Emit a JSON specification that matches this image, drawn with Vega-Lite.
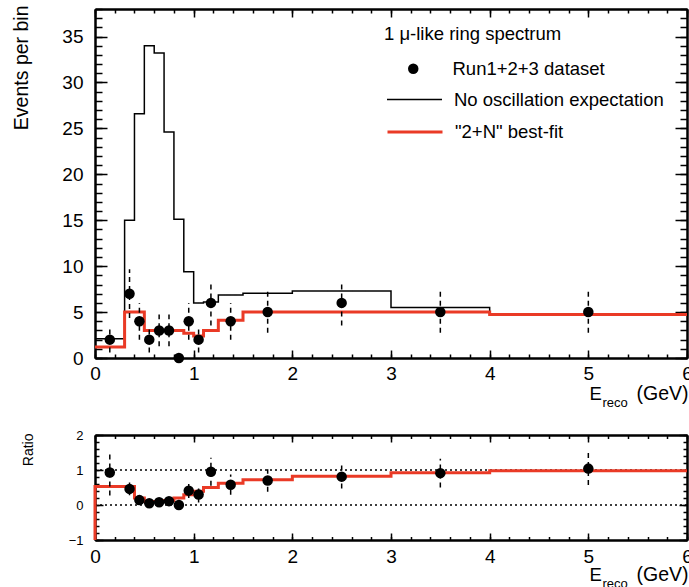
{
  "$schema": "https://vega.github.io/schema/vega-lite/v6.json",
  "padding": {"left": 10, "top": 5, "right": 0, "bottom": 0},
  "spacing": 20,
  "config": {
    "font": "Liberation Sans",
    "view": {"stroke": null},
    "axis": {"grid": false, "domainColor": "black", "domainWidth": 2, "tickColor": "black", "tickWidth": 1.5, "labelColor": "black", "titleColor": "black", "labelFont": "Liberation Sans", "titleFont": "Liberation Sans", "titleFontWeight": "normal", "labelFlush": false, "labelOverlap": false},
    "legend": {"labelFont": "Liberation Sans", "titleFont": "Liberation Sans", "labelColor": "black", "titleColor": "black", "labelFontSize": 18.5, "labelLimit": 400, "padding": 0}
  },
  "datasets": {
    "pts": [
      {"E": 0.15, "n": 2, "lo": 0.59, "hi": 3.41, "r": 0.93, "rlo": 0.27, "rhi": 1.5},
      {"E": 0.35, "n": 7, "lo": 4.35, "hi": 9.65, "r": 0.46, "rlo": 0.28, "rhi": 0.64},
      {"E": 0.45, "n": 4, "lo": 2, "hi": 6, "r": 0.14, "rlo": 0.07, "rhi": 0.22},
      {"E": 0.55, "n": 2, "lo": 0.59, "hi": 3.41, "r": 0.05, "rlo": 0.01, "rhi": 0.09},
      {"E": 0.65, "n": 3, "lo": 1.27, "hi": 4.73, "r": 0.08, "rlo": 0.03, "rhi": 0.13},
      {"E": 0.75, "n": 3, "lo": 1.27, "hi": 4.73, "r": 0.11, "rlo": 0.04, "rhi": 0.18},
      {"E": 0.85, "n": 0, "lo": 0, "hi": 0, "r": 0, "rlo": 0, "rhi": 0},
      {"E": 0.95, "n": 4, "lo": 2, "hi": 6, "r": 0.41, "rlo": 0.2, "rhi": 0.62},
      {"E": 1.05, "n": 2, "lo": 0.59, "hi": 3.41, "r": 0.3, "rlo": 0.07, "rhi": 0.53},
      {"E": 1.175, "n": 6, "lo": 3.55, "hi": 8.45, "r": 0.95, "rlo": 0.55, "rhi": 1.35},
      {"E": 1.375, "n": 4, "lo": 2, "hi": 6, "r": 0.58, "rlo": 0.29, "rhi": 0.87},
      {"E": 1.75, "n": 5, "lo": 2.76, "hi": 7.24, "r": 0.7, "rlo": 0.38, "rhi": 1.02},
      {"E": 2.5, "n": 6, "lo": 3.55, "hi": 8.45, "r": 0.81, "rlo": 0.47, "rhi": 1.15},
      {"E": 3.5, "n": 5, "lo": 2.76, "hi": 7.24, "r": 0.91, "rlo": 0.5, "rhi": 1.32},
      {"E": 5.0, "n": 5, "lo": 2.76, "hi": 7.24, "r": 1.04, "rlo": 0.57, "rhi": 1.51}
    ],
    "noosc": [
      {"i": 0, "E": 0, "v": 2.1}, {"i": 1, "E": 0.3, "v": 15.0}, {"i": 2, "E": 0.4, "v": 26.6}, {"i": 3, "E": 0.5, "v": 34.0},
      {"i": 4, "E": 0.6, "v": 33.2}, {"i": 5, "E": 0.7, "v": 24.6}, {"i": 6, "E": 0.8, "v": 15.1}, {"i": 7, "E": 0.9, "v": 9.4},
      {"i": 8, "E": 1.0, "v": 6.0}, {"i": 9, "E": 1.1, "v": 6.1}, {"i": 10, "E": 1.25, "v": 6.85}, {"i": 11, "E": 1.5, "v": 7.05},
      {"i": 12, "E": 2.0, "v": 7.3}, {"i": 13, "E": 3.0, "v": 5.5}, {"i": 14, "E": 4.0, "v": 4.7}, {"i": 15, "E": 6.0, "v": 4.7}
    ],
    "fit": [
      {"i": 0, "E": 0, "v": 1.2}, {"i": 1, "E": 0.3, "v": 5.0}, {"i": 2, "E": 0.4, "v": 5.0}, {"i": 3, "E": 0.5, "v": 3.0},
      {"i": 4, "E": 0.6, "v": 3.0}, {"i": 5, "E": 0.7, "v": 3.0}, {"i": 6, "E": 0.8, "v": 3.0}, {"i": 7, "E": 0.9, "v": 2.7},
      {"i": 8, "E": 1.0, "v": 2.4}, {"i": 9, "E": 1.1, "v": 3.0}, {"i": 10, "E": 1.25, "v": 4.1}, {"i": 11, "E": 1.5, "v": 5.0},
      {"i": 12, "E": 2.0, "v": 5.0}, {"i": 13, "E": 3.0, "v": 5.0}, {"i": 14, "E": 4.0, "v": 4.75}, {"i": 15, "E": 6.0, "v": 4.75}
    ],
    "rfit": [
      {"i": 0, "E": 0, "v": -1}, {"i": 1, "E": 0, "v": 0.53}, {"i": 2, "E": 0.4, "v": 0.2}, {"i": 3, "E": 0.5, "v": 0.1},
      {"i": 4, "E": 0.6, "v": 0.1}, {"i": 5, "E": 0.7, "v": 0.13}, {"i": 6, "E": 0.8, "v": 0.2}, {"i": 7, "E": 0.9, "v": 0.29},
      {"i": 8, "E": 1.0, "v": 0.39}, {"i": 9, "E": 1.1, "v": 0.5}, {"i": 10, "E": 1.25, "v": 0.62}, {"i": 11, "E": 1.5, "v": 0.72},
      {"i": 12, "E": 2.0, "v": 0.82}, {"i": 13, "E": 3.0, "v": 0.92}, {"i": 14, "E": 4.0, "v": 0.98}, {"i": 15, "E": 6.0, "v": 0.98}
    ],
    "refs": [{"y": 0, "xa": 0, "xb": 6}, {"y": 1, "xa": 0, "xb": 6}]
  },
  "vconcat": [
    {
      "width": 592,
      "height": 349,
      "resolve": {"axis": {"x": "independent", "y": "independent"}},
      "layer": [
        {
          "data": {"name": "noosc"},
          "mark": {"type": "line", "interpolate": "step-after", "color": "black", "strokeWidth": 1.5},
          "encoding": {
            "order": {"field": "i", "type": "quantitative"},
            "x": {"field": "E", "type": "quantitative", "scale": {"domain": [0, 6], "nice": false, "zero": false},
              "axis": {"orient": "bottom", "values": [0, 1, 2, 3, 4, 5, 6], "tickSize": -8, "labelPadding": 14, "labelFontSize": 19,
                "title": "E", "titleFontSize": 18.5, "titleX": 494, "titleY": 41, "titleAlign": "left", "titleBaseline": "alphabetic"}},
            "y": {"field": "v", "type": "quantitative", "scale": {"domain": [0, 38], "nice": false},
              "axis": {"orient": "left", "values": [0, 5, 10, 15, 20, 25, 30, 35], "tickSize": -12, "labelPadding": 24, "labelFontSize": 19,
                "title": "Events per bin", "titleFontSize": 19.5, "titleX": -68, "titleY": -4, "titleAngle": -90, "titleAlign": "right", "titleBaseline": "alphabetic"}},
            "strokeDash": {"datum": "No oscillation expectation",
              "scale": {"domain": ["No oscillation expectation"], "range": [[1, 0]]},
              "legend": {"orient": "none", "legendX": 289, "legendY": 62, "title": null, "symbolSize": 3025, "symbolStrokeWidth": 1.5, "symbolStrokeColor": "black", "symbolOffset": 2, "labelOffset": 11}}
          }
        },
        {
          "data": {"name": "fit"},
          "mark": {"type": "line", "interpolate": "step-after", "strokeWidth": 3},
          "encoding": {
            "order": {"field": "i", "type": "quantitative"},
            "x": {"field": "E", "type": "quantitative",
              "axis": {"orient": "bottom", "values": [0, 0.2, 0.4, 0.6, 0.8, 1, 1.2, 1.4, 1.6, 1.8, 2, 2.2, 2.4, 2.6, 2.8, 3, 3.2, 3.4, 3.6, 3.8, 4, 4.2, 4.4, 4.6, 4.8, 5, 5.2, 5.4, 5.6, 5.8, 6], "tickSize": -4, "labels": false,
                "title": "reco", "titleFontSize": 13, "titleX": 507, "titleY": 48, "titleAlign": "left", "titleBaseline": "alphabetic"}},
            "y": {"field": "v", "type": "quantitative",
              "axis": {"orient": "left", "values": [0, 1, 2, 3, 4, 5, 6, 7, 8, 9, 10, 11, 12, 13, 14, 15, 16, 17, 18, 19, 20, 21, 22, 23, 24, 25, 26, 27, 28, 29, 30, 31, 32, 33, 34, 35, 36, 37, 38], "tickSize": -7, "labels": false, "title": null}},
            "stroke": {"datum": "\"2+N\" best-fit",
              "scale": {"domain": ["\"2+N\" best-fit"], "range": ["#ea3a26"]},
              "legend": {"orient": "none", "legendX": 289, "legendY": 94, "title": null, "symbolSize": 3025, "symbolStrokeWidth": 3, "symbolOffset": 2, "labelOffset": 11}}
          }
        },
        {
          "data": {"name": "pts"},
          "mark": {"type": "rule", "color": "black", "strokeWidth": 1.5, "strokeDash": [5, 4]},
          "encoding": {
            "x": {"field": "E", "type": "quantitative",
              "axis": {"orient": "top", "values": [0, 1, 2, 3, 4, 5, 6], "tickSize": -8, "labels": false,
                "title": "(GeV)", "titleFontSize": 19.5, "titleX": 593, "titleY": 390, "titleAlign": "right", "titleBaseline": "alphabetic"}},
            "y": {"field": "lo", "type": "quantitative",
              "axis": {"orient": "right", "values": [0, 5, 10, 15, 20, 25, 30, 35], "tickSize": -12, "labels": false, "title": null}},
            "y2": {"field": "hi"}
          }
        },
        {
          "data": {"name": "pts"},
          "mark": {"type": "circle", "size": 110, "opacity": 1},
          "encoding": {
            "x": {"field": "E", "type": "quantitative",
              "axis": {"orient": "top", "values": [0, 0.2, 0.4, 0.6, 0.8, 1, 1.2, 1.4, 1.6, 1.8, 2, 2.2, 2.4, 2.6, 2.8, 3, 3.2, 3.4, 3.6, 3.8, 4, 4.2, 4.4, 4.6, 4.8, 5, 5.2, 5.4, 5.6, 5.8, 6], "tickSize": -4, "labels": false, "title": null}},
            "y": {"field": "n", "type": "quantitative",
              "axis": {"orient": "right", "values": [0, 1, 2, 3, 4, 5, 6, 7, 8, 9, 10, 11, 12, 13, 14, 15, 16, 17, 18, 19, 20, 21, 22, 23, 24, 25, 26, 27, 28, 29, 30, 31, 32, 33, 34, 35, 36, 37, 38], "tickSize": -7, "labels": false, "title": null}},
            "color": {"datum": "Run1+2+3 dataset",
              "scale": {"domain": ["Run1+2+3 dataset"], "range": ["black"]},
              "legend": {"orient": "none", "legendX": 289, "legendY": 16, "title": "1 μ-like ring spectrum", "titleFontSize": 18.5, "titleFontWeight": "normal", "titlePadding": 16,
                "symbolOffset": 20, "labelOffset": 30, "symbolSize": 110}}
          }
        }
      ]
    },
    {
      "width": 592,
      "height": 105,
      "resolve": {"axis": {"x": "independent", "y": "independent"}},
      "layer": [
        {
          "data": {"name": "refs"},
          "mark": {"type": "rule", "color": "black", "strokeWidth": 1.5, "strokeDash": [2, 3]},
          "encoding": {
            "x": {"field": "xa", "type": "quantitative", "scale": {"domain": [0, 6], "nice": false, "zero": false},
              "axis": {"orient": "bottom", "values": [0, 1, 2, 3, 4, 5, 6], "tickSize": -7, "labelPadding": 14, "labelFontSize": 19,
                "title": "E", "titleFontSize": 18.5, "titleX": 494, "titleY": 40, "titleAlign": "left", "titleBaseline": "alphabetic"}},
            "x2": {"field": "xb"},
            "y": {"field": "y", "type": "quantitative", "scale": {"domain": [-1, 2], "nice": false, "zero": false},
              "axis": {"orient": "left", "values": [-1, 0, 1, 2], "tickSize": -8, "labelPadding": 20, "labelFontSize": 13,
                "title": "Ratio", "titleFontSize": 14, "titleX": -63, "titleY": -2, "titleAngle": -90, "titleAlign": "right", "titleBaseline": "alphabetic"}}
          }
        },
        {
          "data": {"name": "rfit"},
          "mark": {"type": "line", "interpolate": "step-after", "color": "#ea3a26", "strokeWidth": 3},
          "encoding": {
            "order": {"field": "i", "type": "quantitative"},
            "x": {"field": "E", "type": "quantitative",
              "axis": {"orient": "bottom", "values": [0, 0.2, 0.4, 0.6, 0.8, 1, 1.2, 1.4, 1.6, 1.8, 2, 2.2, 2.4, 2.6, 2.8, 3, 3.2, 3.4, 3.6, 3.8, 4, 4.2, 4.4, 4.6, 4.8, 5, 5.2, 5.4, 5.6, 5.8, 6], "tickSize": -3.5, "labels": false,
                "title": "reco", "titleFontSize": 13, "titleX": 507, "titleY": 47, "titleAlign": "left", "titleBaseline": "alphabetic"}},
            "y": {"field": "v", "type": "quantitative",
              "axis": {"orient": "left", "values": [-1, -0.8, -0.6, -0.4, -0.2, 0, 0.2, 0.4, 0.6, 0.8, 1, 1.2, 1.4, 1.6, 1.8, 2], "tickSize": -4, "labels": false, "title": null}}
          }
        },
        {
          "data": {"name": "pts"},
          "mark": {"type": "rule", "color": "black", "strokeWidth": 1.5, "strokeDash": [5, 4]},
          "encoding": {
            "x": {"field": "E", "type": "quantitative",
              "axis": {"orient": "top", "values": [0, 1, 2, 3, 4, 5, 6], "tickSize": -7, "labels": false,
                "title": "(GeV)", "titleFontSize": 19.5, "titleX": 593, "titleY": 145, "titleAlign": "right", "titleBaseline": "alphabetic"}},
            "y": {"field": "rlo", "type": "quantitative",
              "axis": {"orient": "right", "values": [-1, 0, 1, 2], "tickSize": -8, "labels": false, "title": null}},
            "y2": {"field": "rhi"}
          }
        },
        {
          "data": {"name": "pts"},
          "mark": {"type": "circle", "size": 110, "opacity": 1, "color": "black"},
          "encoding": {
            "x": {"field": "E", "type": "quantitative",
              "axis": {"orient": "top", "values": [0, 0.2, 0.4, 0.6, 0.8, 1, 1.2, 1.4, 1.6, 1.8, 2, 2.2, 2.4, 2.6, 2.8, 3, 3.2, 3.4, 3.6, 3.8, 4, 4.2, 4.4, 4.6, 4.8, 5, 5.2, 5.4, 5.6, 5.8, 6], "tickSize": -3.5, "labels": false, "title": null}},
            "y": {"field": "r", "type": "quantitative",
              "axis": {"orient": "right", "values": [-1, -0.8, -0.6, -0.4, -0.2, 0, 0.2, 0.4, 0.6, 0.8, 1, 1.2, 1.4, 1.6, 1.8, 2], "tickSize": -4, "labels": false, "title": null}}
          }
        }
      ]
    }
  ]
}
